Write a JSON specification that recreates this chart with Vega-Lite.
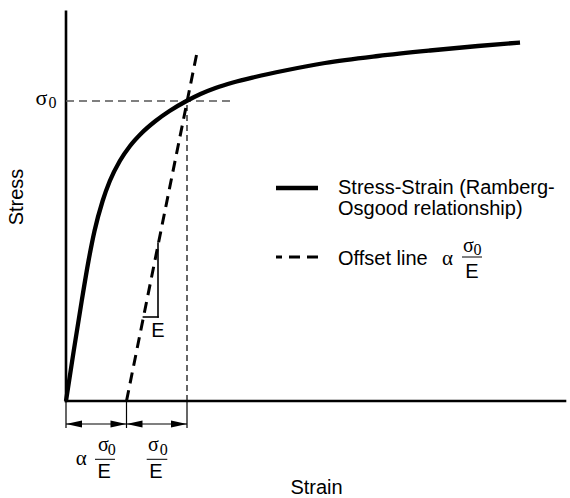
{
  "$schema": "https://vega.github.io/schema/vega-lite/v6.json",
  "width": 570,
  "height": 498,
  "padding": 0,
  "autosize": {"type": "none"},
  "background": "white",
  "config": {"view": {"stroke": null}},
  "datasets": {
    "curve": [
      {"x": 0, "y": 0}, {"x": 7.7, "y": 50}, {"x": 15.7, "y": 100}, {"x": 22.5, "y": 140},
      {"x": 28.5, "y": 170}, {"x": 36.6, "y": 200}, {"x": 43.8, "y": 220}, {"x": 53.8, "y": 240},
      {"x": 64, "y": 255}, {"x": 75.7, "y": 268}, {"x": 89.5, "y": 280}, {"x": 103.5, "y": 290},
      {"x": 120.5, "y": 300}, {"x": 134.5, "y": 307}, {"x": 149.5, "y": 313}, {"x": 167, "y": 318.5},
      {"x": 189, "y": 324}, {"x": 219, "y": 330.5}, {"x": 259, "y": 338}, {"x": 312, "y": 345},
      {"x": 364, "y": 350.5}, {"x": 412, "y": 355}, {"x": 454, "y": 358.5}
    ],
    "segments": [
      {"part": "axis", "x": 0, "y": 0, "x2": 0, "y2": 389.3},
      {"part": "axis", "x": 0, "y": 0, "x2": 499, "y2": 0},
      {"part": "sigma0h", "x": 0, "y": 300, "x2": 164, "y2": 300},
      {"part": "sigma0v", "x": 121, "y": 0, "x2": 121, "y2": 300},
      {"part": "thin", "x": 0, "y": 0, "x2": 0, "y2": -27},
      {"part": "thin", "x": 60.5, "y": 0, "x2": 60.5, "y2": -27},
      {"part": "thin", "x": 121, "y": 0, "x2": 121, "y2": -27},
      {"part": "thin", "x": 0, "y": -23, "x2": 121, "y2": -23},
      {"part": "tri", "x": 92, "y": 158, "x2": 92, "y2": 84},
      {"part": "tri", "x": 77.4, "y": 84, "x2": 92, "y2": 84},
      {"part": "offset", "x": 60.5, "y": 0, "x2": 130.5, "y2": 346},
      {"part": "legsolid", "x": 210, "y": 213, "x2": 252, "y2": 213},
      {"part": "legdash", "x": 210, "y": 144, "x2": 252, "y2": 144},
      {"part": "bar", "x": 29, "y": -58.3, "x2": 49, "y2": -58.3},
      {"part": "bar", "x": 80.7, "y": -58.3, "x2": 101.3, "y2": -58.3},
      {"part": "bar", "x": 396, "y": 144, "x2": 416, "y2": 144}
    ],
    "heads": [
      {"dir": "left", "x": 0, "y": -23},
      {"dir": "left", "x": 60.5, "y": -23},
      {"dir": "right", "x": 60.5, "y": -23},
      {"dir": "right", "x": 121, "y": -23}
    ],
    "texts": [
      {"kind": "sansLeft", "label": "Stress-Strain (Ramberg-", "x": 272, "y": 207},
      {"kind": "sansLeft", "label": "Osgood relationship)", "x": 272, "y": 186},
      {"kind": "sansLeft", "label": "Offset line", "x": 272, "y": 136.5},
      {"kind": "sansCenter", "label": "E", "x": 406, "y": 122.7},
      {"kind": "sansCenter", "label": "E", "x": 38.2, "y": -77},
      {"kind": "sansCenter", "label": "E", "x": 89.8, "y": -77},
      {"kind": "sansCenter", "label": "E", "x": 91.8, "y": 63.7},
      {"kind": "sansCenter", "label": "Strain", "x": 250.5, "y": -93},
      {"kind": "rotated", "label": "Stress", "x": -42.7, "y": 204},
      {"kind": "sigmaBig", "label": "σ", "x": -24.7, "y": 296},
      {"kind": "sigma", "label": "σ", "x": 37.3, "y": -50},
      {"kind": "sigma", "label": "σ", "x": 87.3, "y": -50},
      {"kind": "sigma", "label": "σ", "x": 402.5, "y": 149},
      {"kind": "sub", "label": "0", "x": -13.5, "y": 292.7},
      {"kind": "sub", "label": "0", "x": 45.7, "y": -54},
      {"kind": "sub", "label": "0", "x": 97.7, "y": -54},
      {"kind": "sub", "label": "0", "x": 411.5, "y": 146},
      {"kind": "alpha", "label": "α", "x": 15.3, "y": -64},
      {"kind": "alpha", "label": "α", "x": 381.5, "y": 136.5}
    ]
  },
  "encoding": {
    "x": {"field": "x", "type": "quantitative", "scale": {"domain": [-66, 504], "nice": false, "zero": false}, "axis": null},
    "y": {"field": "y", "type": "quantitative", "scale": {"domain": [-97, 401], "nice": false, "zero": false}, "axis": null}
  },
  "layer": [
    {
      "data": {"name": "segments"},
      "transform": [{"filter": "datum.part === 'axis'"}],
      "mark": {"type": "rule", "color": "black", "strokeWidth": 2.6, "strokeCap": "square"},
      "encoding": {"x2": {"field": "x2"}, "y2": {"field": "y2"}}
    },
    {
      "data": {"name": "segments"},
      "transform": [{"filter": "datum.part === 'sigma0h'"}],
      "mark": {"type": "rule", "color": "#555555", "strokeWidth": 1.5, "strokeDash": [8, 5]},
      "encoding": {"x2": {"field": "x2"}, "y2": {"field": "y2"}}
    },
    {
      "data": {"name": "segments"},
      "transform": [{"filter": "datum.part === 'sigma0v'"}],
      "mark": {"type": "rule", "color": "black", "strokeWidth": 1.2, "strokeDash": [6, 4]},
      "encoding": {"x2": {"field": "x2"}, "y2": {"field": "y2"}}
    },
    {
      "data": {"name": "segments"},
      "transform": [{"filter": "datum.part === 'thin'"}],
      "mark": {"type": "rule", "color": "black", "strokeWidth": 1.2},
      "encoding": {"x2": {"field": "x2"}, "y2": {"field": "y2"}}
    },
    {
      "data": {"name": "segments"},
      "transform": [{"filter": "datum.part === 'tri'"}],
      "mark": {"type": "rule", "color": "black", "strokeWidth": 1.6, "strokeCap": "square"},
      "encoding": {"x2": {"field": "x2"}, "y2": {"field": "y2"}}
    },
    {
      "data": {"name": "segments"},
      "transform": [{"filter": "datum.part === 'offset'"}],
      "mark": {"type": "rule", "color": "black", "strokeWidth": 3, "strokeDash": [11, 7]},
      "encoding": {"x2": {"field": "x2"}, "y2": {"field": "y2"}}
    },
    {
      "data": {"name": "curve"},
      "mark": {"type": "line", "color": "black", "strokeWidth": 4.3, "interpolate": "monotone", "strokeCap": "butt"},
      "encoding": {}
    },
    {
      "data": {"name": "segments"},
      "transform": [{"filter": "datum.part === 'legsolid'"}],
      "mark": {"type": "rule", "color": "black", "strokeWidth": 4.3},
      "encoding": {"x2": {"field": "x2"}, "y2": {"field": "y2"}}
    },
    {
      "data": {"name": "segments"},
      "transform": [{"filter": "datum.part === 'legdash'"}],
      "mark": {"type": "rule", "color": "black", "strokeWidth": 3, "strokeDash": [11, 7], "strokeDashOffset": 5},
      "encoding": {"x2": {"field": "x2"}, "y2": {"field": "y2"}}
    },
    {
      "data": {"name": "segments"},
      "transform": [{"filter": "datum.part === 'bar'"}],
      "mark": {"type": "rule", "color": "black", "strokeWidth": 1},
      "encoding": {"x2": {"field": "x2"}, "y2": {"field": "y2"}}
    },
    {
      "data": {"name": "heads"},
      "transform": [{"filter": "datum.dir === 'left'"}],
      "mark": {"type": "point", "shape": "M 0 0 L 2 -0.44 L 2 0.44 Z", "size": 256, "filled": true, "color": "black", "opacity": 1, "strokeWidth": 0}
    },
    {
      "data": {"name": "heads"},
      "transform": [{"filter": "datum.dir === 'right'"}],
      "mark": {"type": "point", "shape": "M 0 0 L -2 -0.44 L -2 0.44 Z", "size": 256, "filled": true, "color": "black", "opacity": 1, "strokeWidth": 0}
    },
    {
      "data": {"name": "texts"},
      "transform": [{"filter": "datum.kind === 'sansLeft'"}],
      "mark": {"type": "text", "font": "Liberation Sans", "fontSize": 20, "align": "left", "baseline": "alphabetic", "color": "black"},
      "encoding": {"text": {"field": "label"}}
    },
    {
      "data": {"name": "texts"},
      "transform": [{"filter": "datum.kind === 'sansCenter'"}],
      "mark": {"type": "text", "font": "Liberation Sans", "fontSize": 20, "align": "center", "baseline": "alphabetic", "color": "black"},
      "encoding": {"text": {"field": "label"}}
    },
    {
      "data": {"name": "texts"},
      "transform": [{"filter": "datum.kind === 'rotated'"}],
      "mark": {"type": "text", "font": "Liberation Sans", "fontSize": 20, "align": "center", "baseline": "alphabetic", "angle": 270, "color": "black"},
      "encoding": {"text": {"field": "label"}}
    },
    {
      "data": {"name": "texts"},
      "transform": [{"filter": "datum.kind === 'sigmaBig'"}],
      "mark": {"type": "text", "font": "Liberation Serif", "fontSize": 22, "align": "center", "baseline": "alphabetic", "color": "black"},
      "encoding": {"text": {"field": "label"}}
    },
    {
      "data": {"name": "texts"},
      "transform": [{"filter": "datum.kind === 'sigma'"}],
      "mark": {"type": "text", "font": "Liberation Serif", "fontSize": 20, "align": "center", "baseline": "alphabetic", "color": "black"},
      "encoding": {"text": {"field": "label"}}
    },
    {
      "data": {"name": "texts"},
      "transform": [{"filter": "datum.kind === 'sub'"}],
      "mark": {"type": "text", "font": "Liberation Serif", "fontSize": 16, "align": "center", "baseline": "alphabetic", "color": "black"},
      "encoding": {"text": {"field": "label"}}
    },
    {
      "data": {"name": "texts"},
      "transform": [{"filter": "datum.kind === 'alpha'"}],
      "mark": {"type": "text", "font": "Liberation Serif", "fontSize": 21, "align": "center", "baseline": "alphabetic", "color": "black"},
      "encoding": {"text": {"field": "label"}}
    }
  ]
}
